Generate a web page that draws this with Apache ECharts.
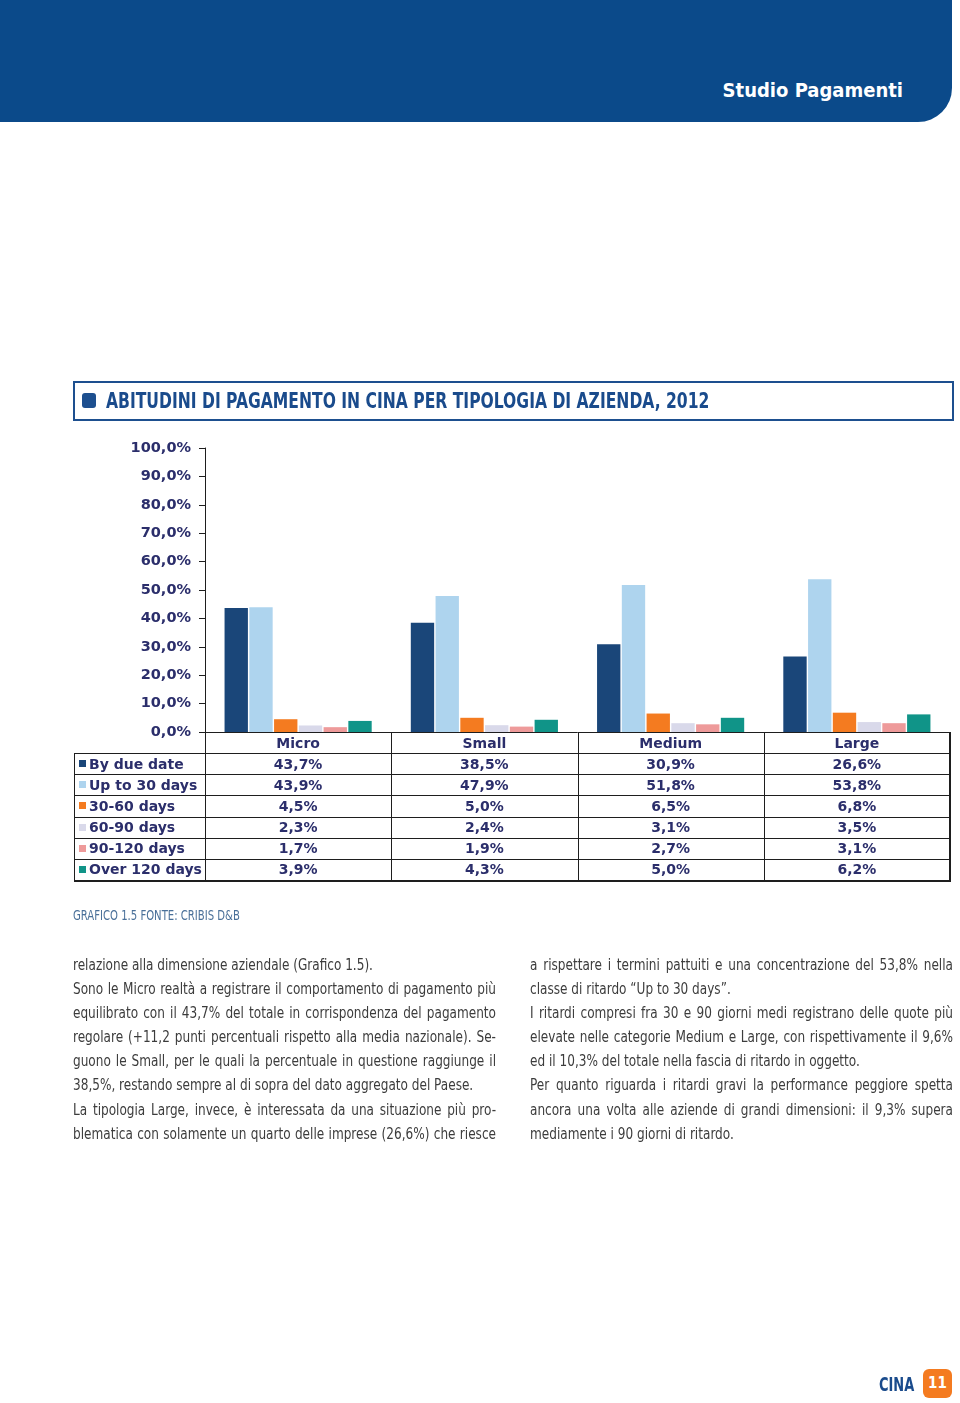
<!DOCTYPE html>
<html>
<head>
<meta charset="utf-8">
<script src="https://cdn.jsdelivr.net/npm/echarts@6/dist/echarts.min.js"></script>
<style>
  html, body { margin:0; padding:0; background:#fff; }
  body { width:960px; height:1403px; position:relative; overflow:hidden; }
  #chart { position:absolute; left:0; top:0; width:960px; height:1403px; }
  .abs { position:absolute; }
  #header { left:0; top:0; width:952px; height:122px; background:#0b4a8a; border-bottom-right-radius:34px; }
  #headerText { right:57px; top:76px; color:#fff; font-family:"DejaVu Sans Condensed",sans-serif; font-weight:bold; font-size:20px; line-height:28px; white-space:nowrap; }
  #titleBox { left:73px; top:381px; width:877px; height:36px; border:2px solid #1d4f8f; }
  #titleIcon { left:82px; top:393px; width:14px; height:15px; background:#1d4f8f; border-radius:3px; }
  #titleText { left:106px; top:387px; color:#1a4b8c; font-family:"DejaVu Sans Condensed",sans-serif; font-weight:bold; font-size:22px; line-height:28px; white-space:nowrap; transform-origin:left center; transform:scaleX(0.787); }
  .tline { position:absolute; background:#1e1e1e; }
  .tcell { position:absolute; color:#2b2e6b; font-family:"DejaVu Sans",Verdana,sans-serif; font-weight:bold; font-size:14px; white-space:nowrap; }
  .mark { position:absolute; width:7px; height:7px; }
  #source { left:73px; top:906px; color:#4a7099; font-family:"DejaVu Sans Condensed",sans-serif; font-size:14px; line-height:18px; white-space:nowrap; transform-origin:left center; transform:scaleX(0.8); }
  .col { position:absolute; top:953px; width:423px; color:#3c3c3c; font-family:"DejaVu Sans Condensed",sans-serif; font-size:16px; line-height:24.1px; }
  .col div { white-space:nowrap; transform-origin:left center; text-align:justify; text-align-last:justify; }
  .col div.end { text-align-last:left; }
  #footer { left:879px; top:1373px; color:#1a4b8c; font-family:"DejaVu Sans Condensed",sans-serif; font-weight:bold; font-size:19px; line-height:22px; transform-origin:left center; transform:scaleX(0.76); }
  #pageBox { left:923px; top:1369px; width:29px; height:29px; background:#f47b20; border-radius:6px; color:#fff; font-family:"DejaVu Sans Condensed",sans-serif; font-weight:bold; font-size:15px; line-height:29px; text-align:center; }
</style>
</head>
<body>
<div id="chart"></div>
<div id="header" class="abs"></div>
<div id="headerText" class="abs">Studio Pagamenti</div>
<div id="titleBox" class="abs"></div>
<div id="titleIcon" class="abs"></div>
<div id="titleText" class="abs">ABITUDINI DI PAGAMENTO IN CINA PER TIPOLOGIA DI AZIENDA, 2012</div>
<div id="table"></div>
<div id="source" class="abs">GRAFICO 1.5 FONTE: CRIBIS D&amp;B</div>
<div class="col" style="left:73px;">
  <div class="end">relazione alla dimensione aziendale (Grafico 1.5).</div>
  <div>Sono le Micro realtà a registrare il comportamento di pagamento più</div>
  <div>equilibrato con il 43,7% del totale in corrispondenza del pagamento</div>
  <div>regolare (+11,2 punti percentuali rispetto alla media nazionale). Se-</div>
  <div>guono le Small, per le quali la percentuale in questione raggiunge il</div>
  <div class="end">38,5%, restando sempre al di sopra del dato aggregato del Paese.</div>
  <div>La tipologia Large, invece, è interessata da una situazione più pro-</div>
  <div>blematica con solamente un quarto delle imprese (26,6%) che riesce</div>
</div>
<div class="col" style="left:530px;">
  <div>a rispettare i termini pattuiti e una concentrazione del 53,8% nella</div>
  <div class="end">classe di ritardo “Up to 30 days”.</div>
  <div>I ritardi compresi fra 30 e 90 giorni medi registrano delle quote più</div>
  <div>elevate nelle categorie Medium e Large, con rispettivamente il 9,6%</div>
  <div class="end">ed il 10,3% del totale nella fascia di ritardo in oggetto.</div>
  <div>Per quanto riguarda i ritardi gravi la performance peggiore spetta</div>
  <div>ancora una volta alle aziende di grandi dimensioni: il 9,3% supera</div>
  <div class="end">mediamente i 90 giorni di ritardo.</div>
</div>
<div id="footer" class="abs">CINA</div>
<div id="pageBox" class="abs">11</div>
<script>
// ---- data ----
const categories = ['Micro', 'Small', 'Medium', 'Large'];
const seriesNames = ['By due date', 'Up to 30 days', '30-60 days', '60-90 days', '90-120 days', 'Over 120 days'];
const byDueDate = [43.7, 38.5, 30.9, 26.6];
const upTo30Days = [43.9, 47.9, 51.8, 53.8];
const days30to60 = [4.5, 5.0, 6.5, 6.8];
const days60to90 = [2.3, 2.4, 3.1, 3.5];
const days90to120 = [1.7, 1.9, 2.7, 3.1];
const over120Days = [3.9, 4.3, 5.0, 6.2];
const yMin = 0, yMax = 100, yInterval = 10;

// ---- styles ----
const seriesData = [byDueDate, upTo30Days, days30to60, days60to90, days90to120, over120Days];
const colors = ['#1a4679', '#aed4ee', '#f47b20', '#d9d9ea', '#ee9a9a', '#109488'];
const navy = '#2b2e6b';
const fmt = v => v.toFixed(1).replace('.', ',') + '%';

const G = { left: 205, right: 950, top: 448, bottom: 732 };
const chart = echarts.init(document.getElementById('chart'), null, { renderer: 'canvas' });
chart.setOption({
  animation: false,
  grid: { left: G.left, top: G.top, width: G.right - G.left, height: G.bottom - G.top, containLabel: false },
  xAxis: {
    type: 'category', data: categories,
    axisLine: { show: true, lineStyle: { color: '#1e1e1e', width: 1 } },
    axisTick: { show: false },
    axisLabel: { margin: 5, color: navy, fontFamily: 'DejaVu Sans', fontWeight: 'bold', fontSize: 14 },
    splitLine: { show: false }
  },
  yAxis: {
    type: 'value', min: yMin, max: yMax, interval: yInterval,
    axisLine: { show: true, lineStyle: { color: '#1e1e1e', width: 1 } },
    axisTick: { show: true, length: 6, lineStyle: { color: '#1e1e1e', width: 1 } },
    axisLabel: { margin: 14, formatter: v => fmt(v), color: navy, fontFamily: 'DejaVu Sans', fontWeight: 'bold', fontSize: 14.5 },
    splitLine: { show: false }
  },
  series: seriesNames.map((n, i) => ({
    name: n, type: 'bar', data: seriesData[i],
    barGap: '6%', barCategoryGap: '21%',
    itemStyle: { color: colors[i] }
  }))
});

// ---- data table below the chart ----
const tbl = document.getElementById('table');
const T = { left: 74, headTop: 732, top: 753, bottom: 880, right: 950 };
const rowH = (T.bottom - T.top) / seriesNames.length;
const colW = (G.right - G.left) / categories.length;
function line(x, y, w, h) {
  const d = document.createElement('div');
  d.className = 'tline';
  d.style.left = x + 'px'; d.style.top = y + 'px'; d.style.width = w + 'px'; d.style.height = h + 'px';
  tbl.appendChild(d);
}
for (let r = 0; r <= seriesNames.length; r++) {
  const y = Math.round(T.top + r * rowH);
  line(T.left, y, T.right - T.left + 1, r === seriesNames.length ? 2 : 1);
}
line(T.left, T.top, 1, T.bottom - T.top + 1);
line(G.left, T.headTop, 1, T.bottom - T.headTop);
for (let c = 1; c <= categories.length; c++) {
  const x = Math.round(G.left + c * colW);
  line(c === categories.length ? x - 1 : x, T.headTop, c === categories.length ? 2 : 1, T.bottom - T.headTop + 1);
}
seriesNames.forEach((n, r) => {
  const cy = T.top + r * rowH + rowH / 2;
  const m = document.createElement('div');
  m.className = 'mark';
  m.style.left = '79px'; m.style.top = (cy - 3.5) + 'px'; m.style.background = colors[r];
  tbl.appendChild(m);
  const lab = document.createElement('div');
  lab.className = 'tcell';
  lab.textContent = n;
  lab.style.left = '89px'; lab.style.top = (cy - 9) + 'px'; lab.style.lineHeight = '18px';
  tbl.appendChild(lab);
  seriesData[r].forEach((v, c) => {
    const d = document.createElement('div');
    d.className = 'tcell';
    d.textContent = fmt(v);
    d.style.left = (G.left + c * colW) + 'px'; d.style.width = colW + 'px';
    d.style.textAlign = 'center';
    d.style.top = (cy - 9) + 'px'; d.style.lineHeight = '18px';
    tbl.appendChild(d);
  });
});

// ---- condense body text lines (no narrow font installed) ----
const S = 0.84, COLW = 423;
document.querySelectorAll('.col div').forEach(div => {
  const span = document.createElement('span');
  span.textContent = div.textContent;
  div.textContent = '';
  div.appendChild(span);
  const natural = span.getBoundingClientRect().width;
  let s = S;
  if (!div.classList.contains('end') && natural * s > COLW) s = COLW / natural;
  div.style.width = (COLW / s) + 'px';
  div.style.transform = 'scaleX(' + s + ')';
});
</script>
</body>
</html>
